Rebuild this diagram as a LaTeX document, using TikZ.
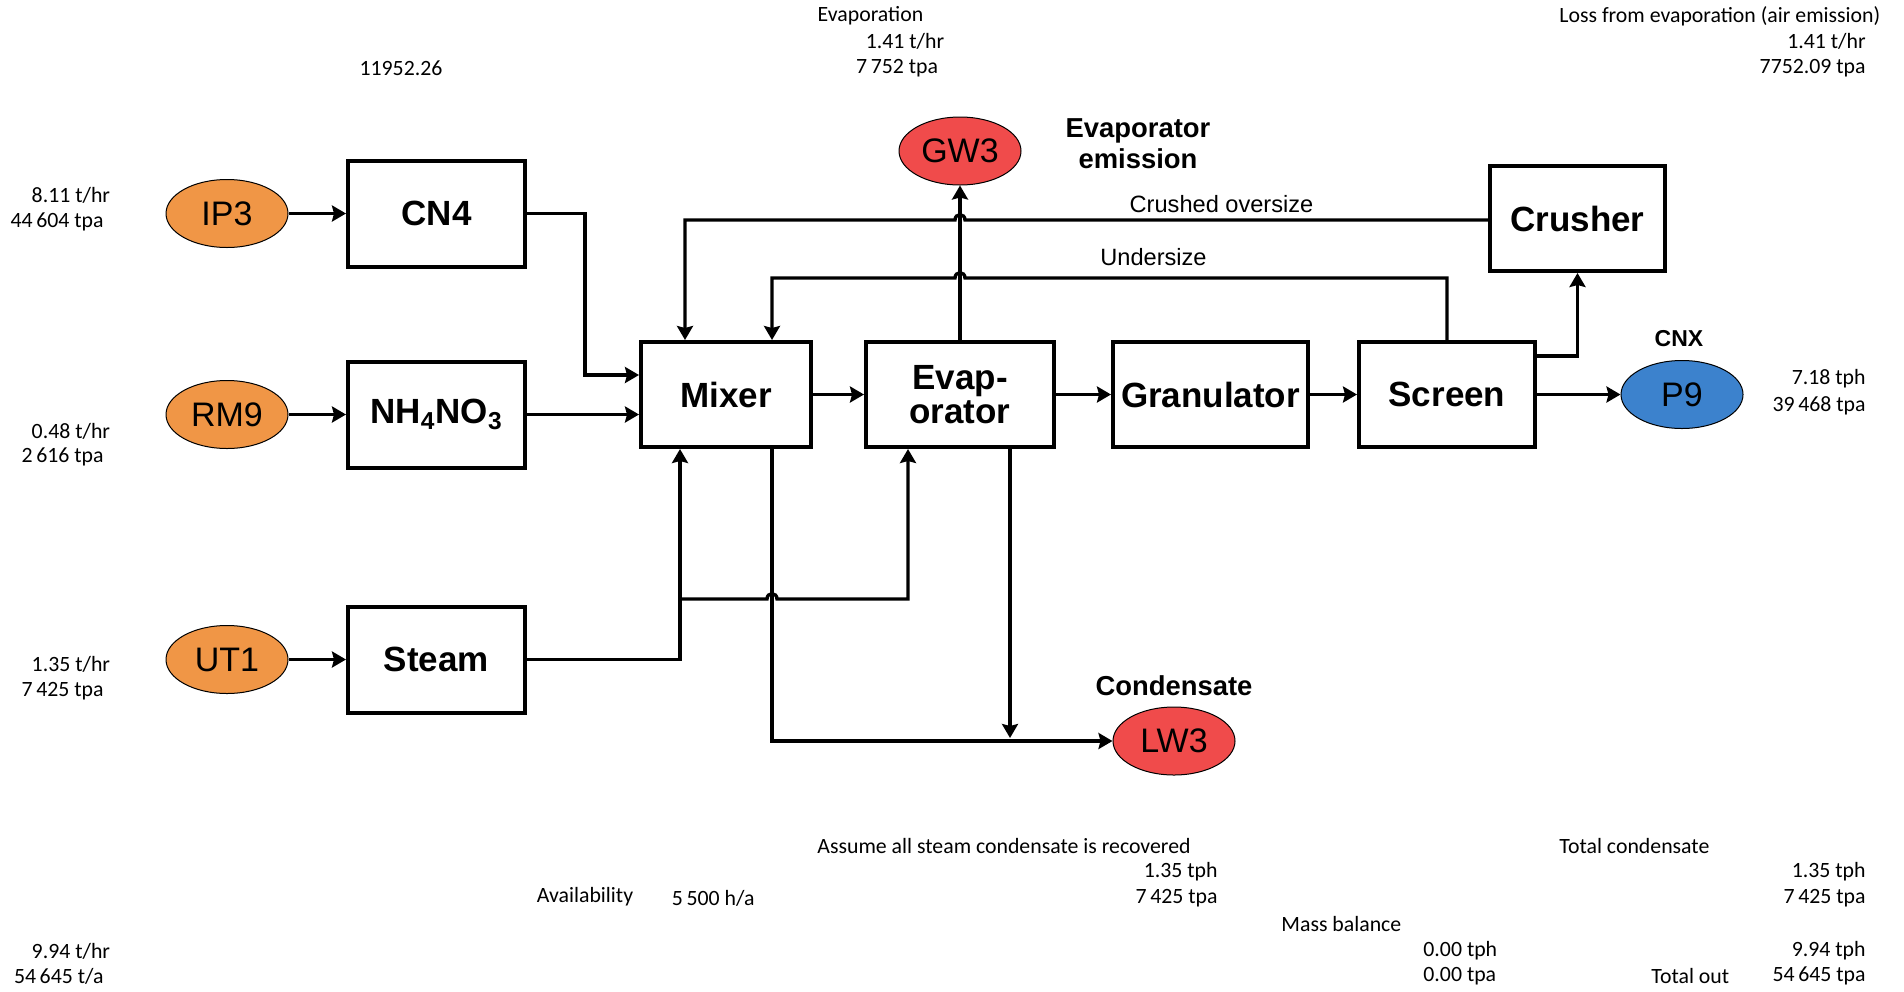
\documentclass[tikz,border=0pt]{standalone}
\usepackage{fontspec}
\setmainfont{Liberation Sans}
\newfontfamily\calfont{Carlito}
\usetikzlibrary{arrows.meta,calc,shapes.geometric}
\definecolor{orangeF}{RGB}{240,150,70}
\definecolor{redF}{RGB}{240,75,75}
\definecolor{blueF}{RGB}{60,130,205}
\begin{document}
\begin{tikzpicture}[x=0.5pt,y=-0.5pt,
  box/.style={draw,line width=2pt,fill=white,inner sep=0pt,font=\fontsize{17.5}{17}\selectfont\bfseries,align=center},
  lbox/.style={box,minimum width=88.5pt,minimum height=53pt},
  pbox/.style={box,minimum height=52.5pt},
  ell/.style={ellipse,draw,line width=0.5pt,inner sep=0pt,minimum width=61pt,minimum height=34pt,font=\fontsize{17}{17}\selectfont},
  arr/.style={line width=1.7pt,-{Stealth[length=7pt,width=8pt,inset=1pt]}},
  sm/.style={font=\calfont\fontsize{10.9}{12}\selectfont,inner sep=0pt},
  bl/.style={font=\bfseries\fontsize{13.7}{15.5}\selectfont,inner sep=0pt,align=center},
  flowlbl/.style={font=\fontsize{11.8}{13}\selectfont,inner sep=0pt}]
\useasboundingbox (0,0) rectangle (1904,991);

% sources
\node[ell,fill=orangeF] (IP3) at (227,213.5) {IP3};
\node[ell,fill=orangeF] (RM9) at (227,414.5) {RM9};
\node[ell,fill=orangeF] (UT1) at (227,659.5) {UT1};

% boxes
\node[lbox] (CN4) at (436.5,213.5) {CN4};
\node[lbox] (NH) at (436.5,414.5) {NH\textsubscript{4}NO\textsubscript{3}};
\node[lbox] (Steam) at (436.5,659.5) {Steam};
\node[pbox,minimum width=85pt] (Mixer) at (726,394.5) {Mixer};
\node[pbox,minimum width=94pt] (Evap) at (960,394.5) {Evap-\\orator};
\node[pbox,minimum width=97.5pt] (Gran) at (1210.5,394.5) {Granulator};
\node[pbox,minimum width=88pt] (Screen) at (1447,394.5) {Screen};
\node[pbox,minimum width=87.5pt] (Crusher) at (1577.5,218.5) {Crusher};

% sinks
\node[ell,fill=redF] (GW3) at (960,151) {GW3};
\node[ell,fill=redF] (LW3) at (1174,741) {LW3};
\node[ell,fill=blueF] (P9) at (1682,394.5) {P9};

% helper coordinates
\coordinate (m1) at (585,375);
\coordinate (s1) at (680,599);
\coordinate (mo) at (772,447);
\coordinate (e1) at (908,599);
\coordinate (eo) at (1010,447);
\coordinate (co) at (685,220);
\coordinate (us) at (1447,278);
\coordinate (j1) at (960,220);
\coordinate (j2) at (960,278);
\coordinate (j3) at (772,599);
\coordinate (sc) at (1535,356);

% feeds
\draw[arr] (IP3) -- (CN4);
\draw[arr] (RM9) -- (NH);
\draw[arr] (UT1) -- (Steam);
\draw[arr] (CN4.east) -| (m1) -- (m1 -| Mixer.west);
\draw[arr] (NH.east) -- (NH.east -| Mixer.west);
\draw[arr] (Steam.east) -| (s1 |- Mixer.south);
\draw[arr] (s1) -- ($(j3)+(-5,0)$) .. controls ($(j3)+(-5,-7)$) and ($(j3)+(5,-7)$) .. ($(j3)+(5,0)$) -| (e1 |- Evap.south);

% main line
\draw[arr] (Mixer) -- (Evap);
\draw[arr] (Evap) -- (Gran);
\draw[arr] (Gran) -- (Screen);
\draw[arr] (Screen) -- (P9);

% outputs
\draw[arr] (Evap.north) -- (GW3.south);
\draw[arr] (mo) -- (mo |- LW3.west) -- (LW3.west);
\draw[arr] (eo) -- ($(eo |- LW3.west)+(0,-3)$);

% recycles
\draw[arr] (Crusher.west |- j1) -- ($(j1)+(5,0)$) .. controls ($(j1)+(5,-7)$) and ($(j1)+(-5,-7)$) .. ($(j1)+(-5,0)$) -- (co) -- (co |- Mixer.north);
\draw[arr] (Screen.north) -- (us) -- ($(j2)+(5,0)$) .. controls ($(j2)+(5,-7)$) and ($(j2)+(-5,-7)$) .. ($(j2)+(-5,0)$) -- (mo |- j2) -- (mo |- Mixer.north);
\draw[arr] (sc) -| (Crusher.south);

% flow labels
\node[flowlbl] (lco) at (1221.5,204) {Crushed oversize};
\node[flowlbl] (lus) at (1153.5,257) {Undersize};
\node[bl] (lem) at (1138,144) {Evaporator\\emission};
\node[bl] (lcd) at (1174,686) {Condensate};
\node[font=\bfseries\fontsize{11.5}{13}\selectfont,inner sep=0pt] (lcnx) at (1679,339) {CNX};

% side values
\node[sm,anchor=east] (t1) at (110.5,195.5) {8.11 t/hr};
\node[sm,anchor=east] (t2) at (104,222) {44\,604 tpa};
\node[sm,anchor=east] (t3) at (110.5,431) {0.48 t/hr};
\node[sm,anchor=east] (t4) at (104,456.5) {2\,616 tpa};
\node[sm,anchor=east] (t5) at (110.5,664) {1.35 t/hr};
\node[sm,anchor=east] (t6) at (104,691) {7\,425 tpa};
\node[sm] (t7) at (401,68) {11952.26};
\node[sm] (t8) at (870.5,16) {Evaporation};
\node[sm,anchor=east] (t9) at (944.5,41) {1.41 t/hr};
\node[sm,anchor=east] (t10) at (938.5,68) {7\,752 tpa};
\node[sm,anchor=west] (t11) at (1559,16) {Loss from evaporation (air emission)};
\node[sm,anchor=east] (t12) at (1866,41) {1.41 t/hr};
\node[sm,anchor=east] (t13) at (1866,68) {7752.09 tpa};
\node[sm,anchor=east] (t14) at (1866,379) {7.18 tph};
\node[sm,anchor=east] (t15) at (1866,405.5) {39\,468 tpa};
\node[sm,anchor=west] (t16) at (817,846) {Assume all steam condensate is recovered};
\node[sm,anchor=east] (t17) at (1218,872) {1.35 tph};
\node[sm,anchor=east] (t18) at (1218,898.5) {7\,425 tpa};
\node[sm,anchor=west] (t19) at (536.5,897) {Availability};
\node[sm,anchor=west] (t20) at (671.5,898.5) {5\,500 h/a};
\node[sm,anchor=west] (t21) at (1559,846) {Total condensate};
\node[sm,anchor=east] (t22) at (1866,872) {1.35 tph};
\node[sm,anchor=east] (t23) at (1866,898.5) {7\,425 tpa};
\node[sm,anchor=west] (t24) at (1281,924) {Mass balance};
\node[sm,anchor=west] (t25) at (1423,951) {0.00 tph};
\node[sm,anchor=west] (t26) at (1423,976) {0.00 tpa};
\node[sm,anchor=east] (t27) at (1866,951) {9.94 tph};
\node[sm,anchor=west] (t28) at (1651,976) {Total out};
\node[sm,anchor=east] (t29) at (1866,976) {54\,645 tpa};
\node[sm,anchor=east] (t30) at (110.5,951) {9.94 t/hr};
\node[sm,anchor=east] (t31) at (104,976) {54\,645 t/a};
\end{tikzpicture}
\end{document}
